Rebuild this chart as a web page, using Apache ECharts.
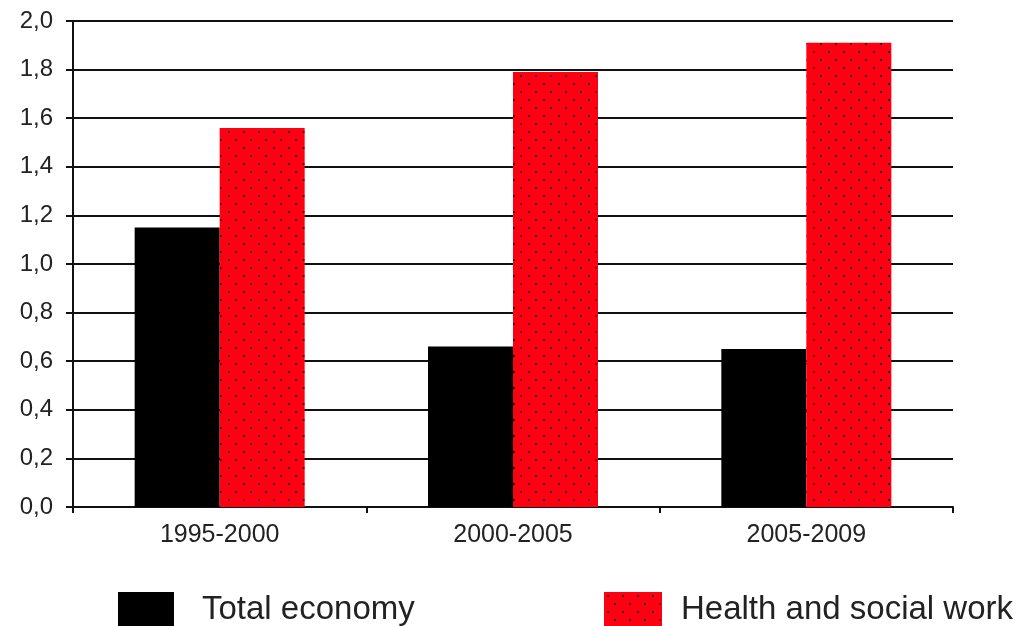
<!DOCTYPE html>
<html>
<head>
<meta charset="utf-8">
<script src="https://cdn.jsdelivr.net/npm/echarts@6/dist/echarts.min.js"></script>
<style>
html,body{margin:0;padding:0;background:#fff;}
#chart{width:1018px;height:626px;}
</style>
</head>
<body>
<div id="chart"></div>
<script>
const categories = ['1995-2000', '2000-2005', '2005-2009'];
const totalEconomy = [1.15, 0.66, 0.65];
const healthSocial = [1.56, 1.79, 1.91];
const seriesNames = ['Total economy', 'Health and social work'];

function makePattern() {
  const c = document.createElement('canvas');
  c.width = 15; c.height = 16;
  const ctx = c.getContext('2d');
  ctx.fillStyle = '#ff0012';
  ctx.fillRect(0, 0, 15, 16);
  ctx.fillStyle = 'rgba(0,0,0,0.8)';
  ctx.fillRect(3, 3, 2, 2);
  ctx.fillRect(10, 11, 2, 2);
  return c;
}
const redPattern = { image: makePattern(), repeat: 'repeat' };

const chart = echarts.init(document.getElementById('chart'));
const font = 'Liberation Sans, Arial, sans-serif';
chart.setOption({
  animation: false,
  backgroundColor: '#fff',
  grid: { left: 73, right: 65, top: 21, bottom: 119, containLabel: false },
  legend: [
    {
      data: [seriesNames[0]], left: 113, top: 587,
      itemWidth: 56, itemHeight: 36, icon: 'rect',
      textStyle: { fontSize: 33, fontFamily: font, color: '#222', padding: [0, 0, 0, 23] }
    },
    {
      data: [seriesNames[1]], left: 599, top: 587,
      itemWidth: 58, itemHeight: 36, icon: 'rect',
      textStyle: { fontSize: 33, fontFamily: font, color: '#222', padding: [0, 0, 0, 14] }
    }
  ],
  xAxis: {
    type: 'category',
    data: categories,
    boundaryGap: true,
    axisLine: { show: true, lineStyle: { color: '#111', width: 2 } },
    axisTick: { show: true, alignWithLabel: false, length: 6, lineStyle: { color: '#111', width: 2 } },
    axisLabel: { fontSize: 25, fontFamily: font, color: '#222', margin: 16 },
    splitLine: { show: false }
  },
  yAxis: {
    type: 'value',
    min: 0, max: 2, interval: 0.2,
    axisLine: { show: true, lineStyle: { color: '#111', width: 2 } },
    axisTick: { show: true, length: 7, lineStyle: { color: '#111', width: 2 } },
    axisLabel: {
      fontSize: 24, fontFamily: font, color: '#222', margin: 20,
      formatter: v => v.toFixed(1).replace('.', ',')
    },
    splitLine: { show: true, lineStyle: { color: '#111', width: 2 } }
  },
  series: [
    {
      name: seriesNames[0], type: 'bar', data: totalEconomy,
      barWidth: 85, barGap: '0%',
      itemStyle: { color: '#000' }
    },
    {
      name: seriesNames[1], type: 'bar', data: healthSocial,
      barWidth: 85, barGap: '0%',
      itemStyle: { color: redPattern }
    }
  ]
});
</script>
</body>
</html>
